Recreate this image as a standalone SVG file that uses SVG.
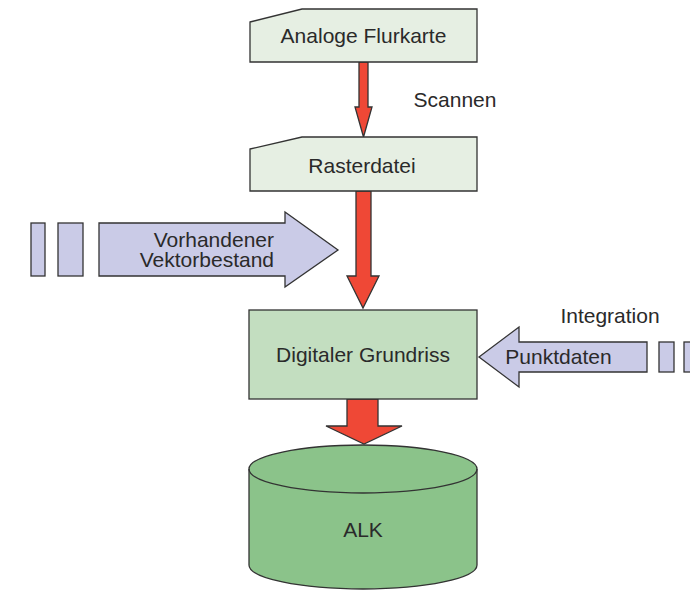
<svg xmlns="http://www.w3.org/2000/svg" width="690" height="594" viewBox="0 0 690 594">
  <style>
    .lbl { font-family: "Liberation Sans", Arial, sans-serif; font-size: 21px; fill: #2a2a2a; }
    .edge { stroke: #333; stroke-width: 1.3; stroke-linejoin: miter; }
    .doc { fill: #e6efe3; }
    .proc { fill: #c3dec0; }
    .store { fill: #8bc38a; }
    .flow { fill: #ef4836; }
    .feed { fill: #cacbe7; }
  </style>
  <rect width="690" height="594" fill="#ffffff"/>

  <!-- connectors: red flow arrows and lavender input arrows -->
  <g id="connectors">
    <polygon class="flow edge" points="359,62 368,62 368,107 372,107 363.5,137 355,107 359,107"/>
    <polygon class="flow edge" points="356,191 371,191 371,276 379,276 363,308 347,276 356,276"/>
    <polygon class="flow edge" points="347,399 378,399 378,426 402,426 364,444 326,426 347,426"/>

    <g id="vektorbestand">
      <rect class="feed edge" x="31" y="223" width="14" height="53"/>
      <rect class="feed edge" x="58" y="223" width="25" height="53"/>
      <polygon class="feed edge" points="99,223 285,223 285,212 338,250 285,287 285,276 99,276"/>
      <text class="lbl" x="274" y="247" text-anchor="end">Vorhandener</text>
      <text class="lbl" x="274" y="267" text-anchor="end">Vektorbestand</text>
    </g>

    <g id="punktdaten">
      <polygon class="feed edge" points="479,357 519,327 519,342 647,342 647,372 519,372 519,387"/>
      <rect class="feed edge" x="659" y="342" width="15" height="30"/>
      <rect class="feed edge" x="684" y="342" width="15" height="30"/>
      <text class="lbl" x="558.5" y="364" text-anchor="middle">Punktdaten</text>
    </g>

    <text class="lbl" x="455" y="107" text-anchor="middle">Scannen</text>
    <text class="lbl" x="610" y="323" text-anchor="middle">Integration</text>
  </g>

  <g id="analoge-flurkarte">
    <polygon class="doc edge" points="250,22 302,9 477,9 477,62 250,62"/>
    <text class="lbl" x="363.5" y="43" text-anchor="middle">Analoge Flurkarte</text>
  </g>

  <g id="rasterdatei">
    <polygon class="doc edge" points="250,149 302,137 477,137 477,191 250,191"/>
    <text class="lbl" x="362" y="173" text-anchor="middle">Rasterdatei</text>
  </g>

  <g id="digitaler-grundriss">
    <rect class="proc edge" x="249" y="310" width="228" height="89"/>
    <text class="lbl" x="363" y="362" text-anchor="middle">Digitaler Grundriss</text>
  </g>

  <g id="alk">
    <path class="store edge" d="M249,469 L249,565 A114,24 0 0 0 477,565 L477,469 A114,24 0 0 0 249,469 Z"/>
    <path class="edge" fill="none" d="M249,469 A114,24 0 0 0 477,469"/>
    <text class="lbl" x="363" y="537" text-anchor="middle">ALK</text>
  </g>
</svg>
